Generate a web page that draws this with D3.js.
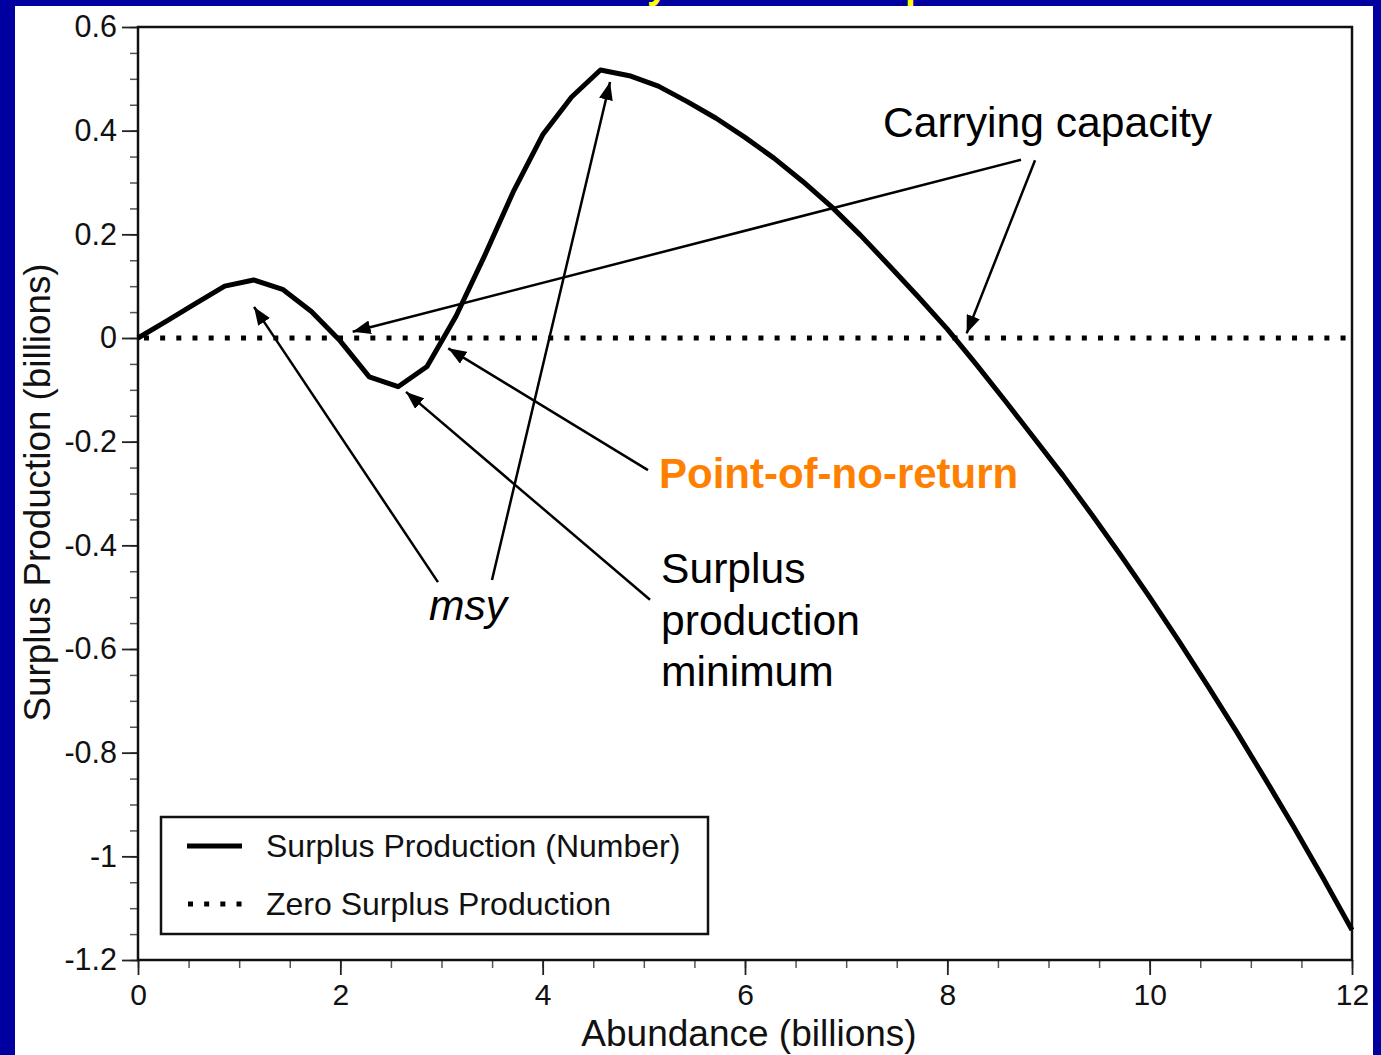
<!DOCTYPE html>
<html>
<head>
<meta charset="utf-8">
<script src="https://cdn.jsdelivr.net/npm/d3@7"></script>
<style>
  html, body { margin: 0; padding: 0; background: #ffffff; }
  svg { display: block; }
  text { font-family: "Liberation Sans", Arial, Helvetica, sans-serif; }
</style>
</head>
<body>
<svg id="chart" width="1381" height="1055"></svg>
<script>
// Abundance (billions) at which surplus production was evaluated
const abundance = [
  0, 0.286, 0.571, 0.857, 1.143, 1.429, 1.714, 2.0, 2.286, 2.571, 2.857,
  3.143, 3.429, 3.714, 4.0, 4.286, 4.571, 4.857, 5.143, 5.429, 5.714,
  6.0, 6.286, 6.571, 6.857, 7.143, 7.429, 7.714, 8.0, 8.286, 8.571,
  8.857, 9.143, 9.429, 9.714, 10.0, 10.286, 10.571, 10.857, 11.143, 11.429,
  11.714, 12.0
];
// Surplus production (billions) at each abundance
const surplus = [
  0, 0.033, 0.067, 0.100, 0.112, 0.094, 0.051, -0.006, -0.075, -0.094, -0.055,
  0.042, 0.160, 0.284, 0.392, 0.465, 0.517, 0.506, 0.486, 0.456, 0.424,
  0.387, 0.347, 0.302, 0.253, 0.198, 0.139, 0.079, 0.017, -0.051, -0.121,
  -0.193, -0.265, -0.341, -0.419, -0.500, -0.584, -0.670, -0.759, -0.851, -0.945,
  -1.042, -1.142
];

const xTicks = [0, 2, 4, 6, 8, 10, 12];
const xTickLabels = ["0", "2", "4", "6", "8", "10", "12"];
const xMinorTicks = d3.range(0, 12.01, 0.5);
const yTicks = [0.6, 0.4, 0.2, 0, -0.2, -0.4, -0.6, -0.8, -1, -1.2];
const yTickLabels = ["0.6", "0.4", "0.2", "0", "-0.2", "-0.4", "-0.6", "-0.8", "-1", "-1.2"];
const yMinorTicks = d3.range(-1.2, 0.601, 0.05).map(v => +v.toFixed(2));

const legendItems = ["Surplus Production (Number)", "Zero Surplus Production"];
const titleText = "Dynamics of depensation";

// Annotations: label lines and arrows given as [abundance, production] pairs
const annotations = [
  { lines: ["Carrying capacity"], at: [7.364, 0.388], style: "plain",
    arrows: [ { from: [8.728, 0.344], to: [2.122, 0.012] },
              { from: [8.867, 0.343], to: [8.191, 0.009] } ] },
  { lines: ["Point-of-no-return"], at: [5.15, -0.289], style: "orange",
    arrows: [ { from: [5.041, -0.255], to: [3.067, -0.020] } ] },
  { lines: ["Surplus", "production", "minimum"], at: [5.17, -0.473], style: "plain",
    arrows: [ { from: [5.061, -0.505], to: [2.649, -0.104] } ] },
  { lines: ["msy"], at: [2.876, -0.544], style: "italic",
    arrows: [ { from: [2.965, -0.471], to: [1.147, 0.060] },
              { from: [3.499, -0.467], to: [4.666, 0.494] } ] }
];

const svg = d3.select("#chart");
const W = 1381, H = 1055;
const frameBlue = "#0000a0";

// slide background: white canvas inside a blue frame
svg.append("rect").attr("width", W).attr("height", H).attr("fill", "#ffffff");
svg.append("rect").attr("x", 0).attr("y", 0).attr("width", 15).attr("height", H).attr("fill", frameBlue);
svg.append("rect").attr("x", 1373).attr("y", 0).attr("width", W - 1373).attr("height", H).attr("fill", frameBlue);
svg.append("rect").attr("x", 0).attr("y", 0).attr("width", W).attr("height", 6).attr("fill", frameBlue);

// slide title (runs off the top edge)
svg.append("defs").append("clipPath").attr("id", "titleClip")
  .append("rect").attr("x", 0).attr("y", 0).attr("width", W).attr("height", 6);
svg.append("text")
  .attr("clip-path", "url(#titleClip)")
  .attr("x", 619).attr("y", -2)
  .attr("font-size", 38.7).attr("font-weight", "bold")
  .attr("fill", "#ffff00")
  .text(titleText);

const x = d3.scaleLinear().domain([0, 12]).range([138, 1352]);
const y = d3.scaleLinear().domain([-1.2, 0.6]).range([960, 27]);

// minor ticks
svg.append("g").attr("transform", `translate(0,${y(-1.2)})`)
  .call(d3.axisBottom(x).tickValues(xMinorTicks).tickSize(8).tickFormat(""))
  .call(g => g.select(".domain").remove())
  .call(g => g.selectAll("line").attr("stroke", "#555").attr("stroke-width", 1.5));
svg.append("g").attr("transform", `translate(${x(0)},0)`)
  .call(d3.axisLeft(y).tickValues(yMinorTicks).tickSize(8).tickFormat(""))
  .call(g => g.select(".domain").remove())
  .call(g => g.selectAll("line").attr("stroke", "#555").attr("stroke-width", 1.5));

// major ticks and labels
svg.append("g").attr("transform", `translate(0,${y(-1.2)})`)
  .call(d3.axisBottom(x).tickValues(xTicks).tickSize(15).tickPadding(9)
    .tickFormat((d, i) => xTickLabels[i]))
  .call(g => g.select(".domain").remove())
  .call(g => g.selectAll("line").attr("stroke", "#222").attr("stroke-width", 1.8))
  .call(g => g.selectAll("text").attr("font-size", 30).attr("fill", "#111")
    .attr("font-family", '"Liberation Sans", Arial, sans-serif'));
svg.append("g").attr("transform", `translate(${x(0)},0)`)
  .call(d3.axisLeft(y).tickValues(yTicks).tickSize(16).tickPadding(5)
    .tickFormat((d, i) => yTickLabels[i]))
  .call(g => g.select(".domain").remove())
  .call(g => g.selectAll("line").attr("stroke", "#222").attr("stroke-width", 1.8))
  .call(g => g.selectAll("text").attr("font-size", 30.5).attr("fill", "#111")
    .attr("font-family", '"Liberation Sans", Arial, sans-serif'));

// plot box
svg.append("rect")
  .attr("x", x(0)).attr("y", y(0.6))
  .attr("width", x(12) - x(0)).attr("height", y(-1.2) - y(0.6))
  .attr("fill", "none").attr("stroke", "#111").attr("stroke-width", 2.5);

// zero surplus production reference
svg.append("line")
  .attr("x1", x(0)).attr("x2", x(12)).attr("y1", y(0)).attr("y2", y(0))
  .attr("stroke", "#000").attr("stroke-width", 5)
  .attr("stroke-dasharray", "5 11.17").attr("stroke-dashoffset", 10.2);

// surplus production curve
const series = abundance.map((a, i) => [a, surplus[i]]);
svg.append("path")
  .datum(series)
  .attr("d", d3.line().x(d => x(d[0])).y(d => y(d[1])))
  .attr("fill", "none").attr("stroke", "#000").attr("stroke-width", 5)
  .attr("stroke-linejoin", "round");

// arrowhead marker
svg.select("defs").append("marker")
  .attr("id", "head").attr("viewBox", "0 0 18 14")
  .attr("refX", 18).attr("refY", 7)
  .attr("markerWidth", 18).attr("markerHeight", 14)
  .attr("markerUnits", "userSpaceOnUse")
  .attr("orient", "auto")
  .append("path").attr("d", "M0,0 L18,7 L0,14 Z").attr("fill", "#000");

// annotations
const lineGap = 51.5;
annotations.forEach(a => {
  a.arrows.forEach(ar => {
    svg.append("line")
      .attr("x1", x(ar.from[0])).attr("y1", y(ar.from[1]))
      .attr("x2", x(ar.to[0])).attr("y2", y(ar.to[1]))
      .attr("stroke", "#000").attr("stroke-width", 2.5)
      .attr("marker-end", "url(#head)");
  });
  const t = svg.append("text")
    .attr("x", x(a.at[0])).attr("y", y(a.at[1]))
    .attr("font-size", a.style === "orange" ? 42 : 42.6)
    .attr("fill", a.style === "orange" ? "#ff7f00" : "#000")
    .attr("font-weight", a.style === "orange" ? "bold" : "normal")
    .attr("font-style", a.style === "italic" ? "italic" : "normal");
  a.lines.forEach((ln, i) => {
    t.append("tspan").attr("x", x(a.at[0])).attr("dy", i === 0 ? 0 : lineGap).text(ln);
  });
});

// legend
const legend = svg.append("g");
legend.append("rect")
  .attr("x", 161).attr("y", 817).attr("width", 547).attr("height", 117)
  .attr("fill", "#fff").attr("stroke", "#111").attr("stroke-width", 2.5);
const legendRows = [846, 904];
legendItems.forEach((label, i) => {
  const ly = legendRows[i];
  const sample = legend.append("line")
    .attr("x1", 187).attr("x2", 242).attr("y1", ly).attr("y2", ly)
    .attr("stroke", "#000").attr("stroke-width", 5);
  if (i === 1) sample.attr("stroke-dasharray", "5 11.17").attr("x1", 188);
  legend.append("text")
    .attr("x", 266).attr("y", ly + 11)
    .attr("font-size", 32).attr("fill", "#111")
    .text(label);
});

// axis titles
svg.append("text")
  .attr("x", 749).attr("y", 1046)
  .attr("text-anchor", "middle").attr("font-size", 37).attr("fill", "#111")
  .text("Abundance (billions)");
svg.append("text")
  .attr("transform", `translate(50,${(263 + 722) / 2}) rotate(-90)`)
  .attr("text-anchor", "middle").attr("font-size", 36.8).attr("fill", "#111")
  .text("Surplus Production (billions)");
</script>
</body>
</html>
